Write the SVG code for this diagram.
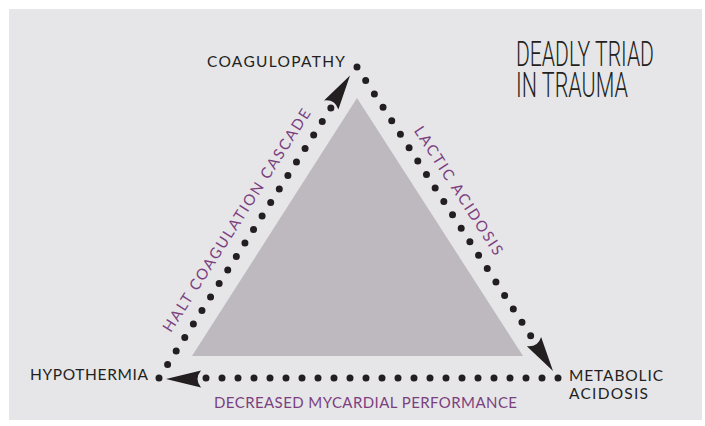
<svg xmlns="http://www.w3.org/2000/svg" xmlns:xlink="http://www.w3.org/1999/xlink" width="705" height="426" viewBox="0 0 705 426">
  <style>
    .node { font-family: Lato, "Liberation Sans", sans-serif; font-size: 15.5px; fill: #231f20; }
    .lbl { font-family: Lato, "Liberation Sans", sans-serif; font-size: 15px; fill: #7b3f7f; }
    .title { font-family: Roboto, "Liberation Sans", sans-serif; font-weight: 300; font-size: 36px; fill: #231f20; }
    .dots { fill: none; stroke: #231f20; stroke-width: 7; stroke-linecap: round; stroke-dasharray: 0 16; }
    .ah { fill: #231f20; }
  </style>
  <defs>
    <path id="ah" d="M0,0 L-35,-8.5 Q-28,0 -35,8.5 Z"/>
  </defs>
  <rect x="9" y="9" width="693" height="411" fill="#e6e6e8"/>
  <g id="triangle">
    <polygon points="357,98 523,356 192,356" fill="#bdb9bf"/>
  </g>
  <g id="title">
    <text class="title" transform="translate(516,66) scale(0.57,1)"><tspan x="0" y="0" textLength="242" lengthAdjust="spacingAndGlyphs">DEADLY TRIAD</tspan><tspan x="0" y="30.5" textLength="196.5" lengthAdjust="spacingAndGlyphs">IN TRAUMA</tspan></text>
  </g>
  <g id="connectors">
    <path class="dots" d="M159,378 L331.4,107.2"/>
    <path class="dots" d="M357,67 L531.2,336.6"/>
    <path class="dots" d="M558,378 L205,378"/>
    <use class="ah" xlink:href="#ah" href="#ah" transform="translate(350,75.5) rotate(-57.5)"/>
    <use class="ah" xlink:href="#ah" href="#ah" transform="translate(553,371) rotate(57.1)"/>
    <use class="ah" xlink:href="#ah" href="#ah" transform="translate(166,379) rotate(180)"/>
    <g transform="translate(159,378) rotate(-57.5)">
      <text class="lbl" x="44" y="-14" textLength="261" lengthAdjust="spacing">HALT COAGULATION CASCADE</text>
    </g>
    <g transform="translate(357,67) rotate(57.1)">
      <text class="lbl" x="84" y="-13" textLength="150" lengthAdjust="spacing">LACTIC ACIDOSIS</text>
    </g>
    <text class="lbl" x="214" y="408" textLength="303" lengthAdjust="spacing">DECREASED MYCARDIAL PERFORMANCE</text>
  </g>
  <g id="node-coagulopathy">
    <text class="node" x="207" y="66.5" textLength="138" lengthAdjust="spacing">COAGULOPATHY</text>
  </g>
  <g id="node-hypothermia">
    <text class="node" x="30" y="380" textLength="118" lengthAdjust="spacing">HYPOTHERMIA</text>
  </g>
  <g id="node-metabolic-acidosis">
    <text class="node" x="569" y="381" textLength="94" lengthAdjust="spacing">METABOLIC</text>
    <text class="node" x="569" y="399" textLength="79" lengthAdjust="spacing">ACIDOSIS</text>
  </g>
</svg>
